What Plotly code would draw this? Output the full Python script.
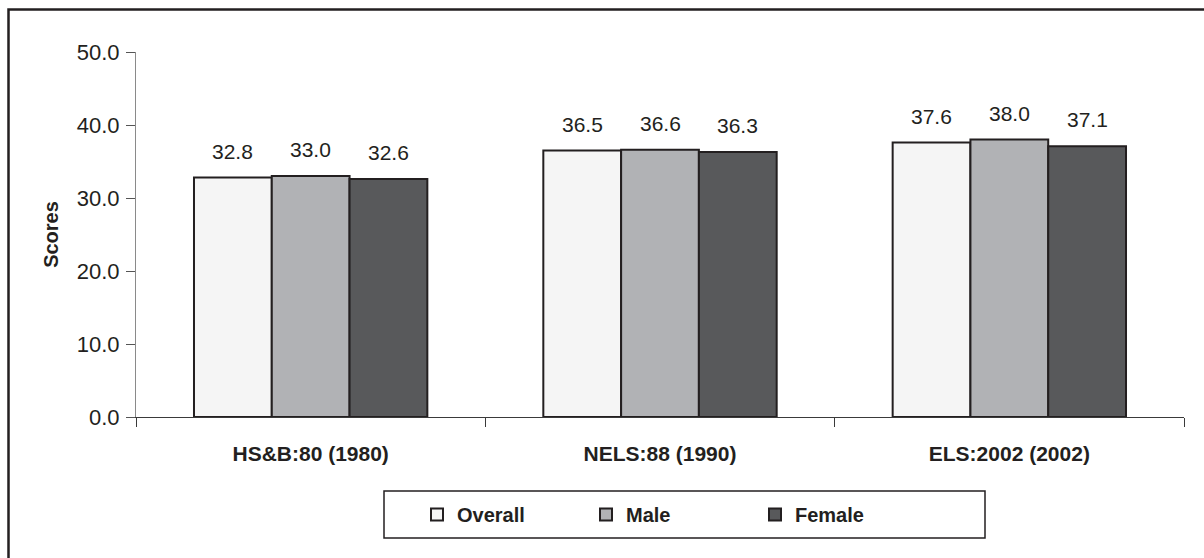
import plotly.graph_objects as go

# Cohort labels and mean scores by group
cohorts = ["HS&B:80 (1980)", "NELS:88 (1990)", "ELS:2002 (2002)"]
overall = [32.8, 36.5, 37.6]
male = [33.0, 36.6, 38.0]
female = [32.6, 36.3, 37.1]

series = [
    ("Overall", overall, "#f5f5f5"),
    ("Male", male, "#b1b2b5"),
    ("Female", female, "#58595b"),
]

y_ticks = [0, 10, 20, 30, 40, 50]
y_tick_text = [f"{v:.1f}" for v in y_ticks]

INK = "#231f20"
FONT = "Liberation Sans, Arial, sans-serif"

W, H = 1204, 558
M_L, M_R, M_T, M_B = 136, 20, 52, 141
plot_w = W - M_L - M_R
plot_h = H - M_T - M_B

BARGAP = 0.332
n_series = len(series)
cat_px = plot_w / len(cohorts)
bar_px = cat_px * (1 - BARGAP) / n_series

fig = go.Figure()
for i, (name, vals, color) in enumerate(series):
    fig.add_trace(go.Bar(
        name=name,
        x=cohorts,
        y=vals,
        marker=dict(color=color, line=dict(color=INK, width=2)),
        hoverinfo="x+y+name",
    ))
    # value labels above each bar
    shift = (i - (n_series - 1) / 2) * bar_px
    for c, v in zip(cohorts, vals):
        fig.add_annotation(
            x=c, y=v, text=f"{v:.1f}", showarrow=False,
            xshift=shift, yshift=13, yanchor="bottom",
            font=dict(family=FONT, size=21, color=INK),
        )

# outer frame
fig.add_shape(type="rect", xref="paper", yref="paper",
              x0=(8.5 - M_L) / plot_w, x1=2.0,
              y0=-2.0, y1=(H - M_B - 9.5) / plot_h,
              line=dict(color=INK, width=2.5), fillcolor="rgba(0,0,0,0)")

# legend box
lx0, lx1, ly0, ly1 = 384, 985, 491, 538
fig.add_shape(type="rect", xref="paper", yref="paper",
              x0=(lx0 - M_L) / plot_w, x1=(lx1 - M_L) / plot_w,
              y0=(H - M_B - ly1) / plot_h, y1=(H - M_B - ly0) / plot_h,
              line=dict(color=INK, width=1.5), fillcolor="rgba(0,0,0,0)")

fig.update_layout(
    width=W, height=H,
    margin=dict(l=M_L, r=M_R, t=M_T, b=M_B),
    paper_bgcolor="white", plot_bgcolor="white",
    barmode="group", bargap=BARGAP, bargroupgap=0,
    font=dict(family=FONT, color=INK, size=21),
    showlegend=True,
    legend=dict(
        orientation="h",
        x=(417 - M_L) / plot_w, xanchor="left",
        y=(H - M_B - 514.5) / plot_h, yanchor="middle",
        entrywidth=124,
        font=dict(family=FONT, size=20, color=INK, weight="bold"),
        bgcolor="rgba(0,0,0,0)", borderwidth=0,
        traceorder="normal",
    ),
    xaxis=dict(
        showline=True, linecolor="#3a3a3a", linewidth=1,
        ticks="outside", ticklen=9, tickcolor="#3a3a3a", tickwidth=1,
        tickson="boundaries",
        ticklabelstandoff=18,
        tickfont=dict(family=FONT, size=21, color=INK, weight="bold"),
        showgrid=False, zeroline=False,
    ),
    yaxis=dict(
        range=[0, 50],
        tickvals=y_ticks, ticktext=y_tick_text,
        showline=True, linecolor="#8a8a8a", linewidth=1,
        ticks="outside", ticklen=9, tickcolor="#555555", tickwidth=1,
        ticklabelstandoff=2,
        tickfont=dict(family=FONT, size=22, color=INK),
        showgrid=False, zeroline=False,
        title=dict(text="Scores", standoff=12,
                   font=dict(family=FONT, size=20, color=INK, weight="bold")),
    ),
)

fig.write_html("out.html")
